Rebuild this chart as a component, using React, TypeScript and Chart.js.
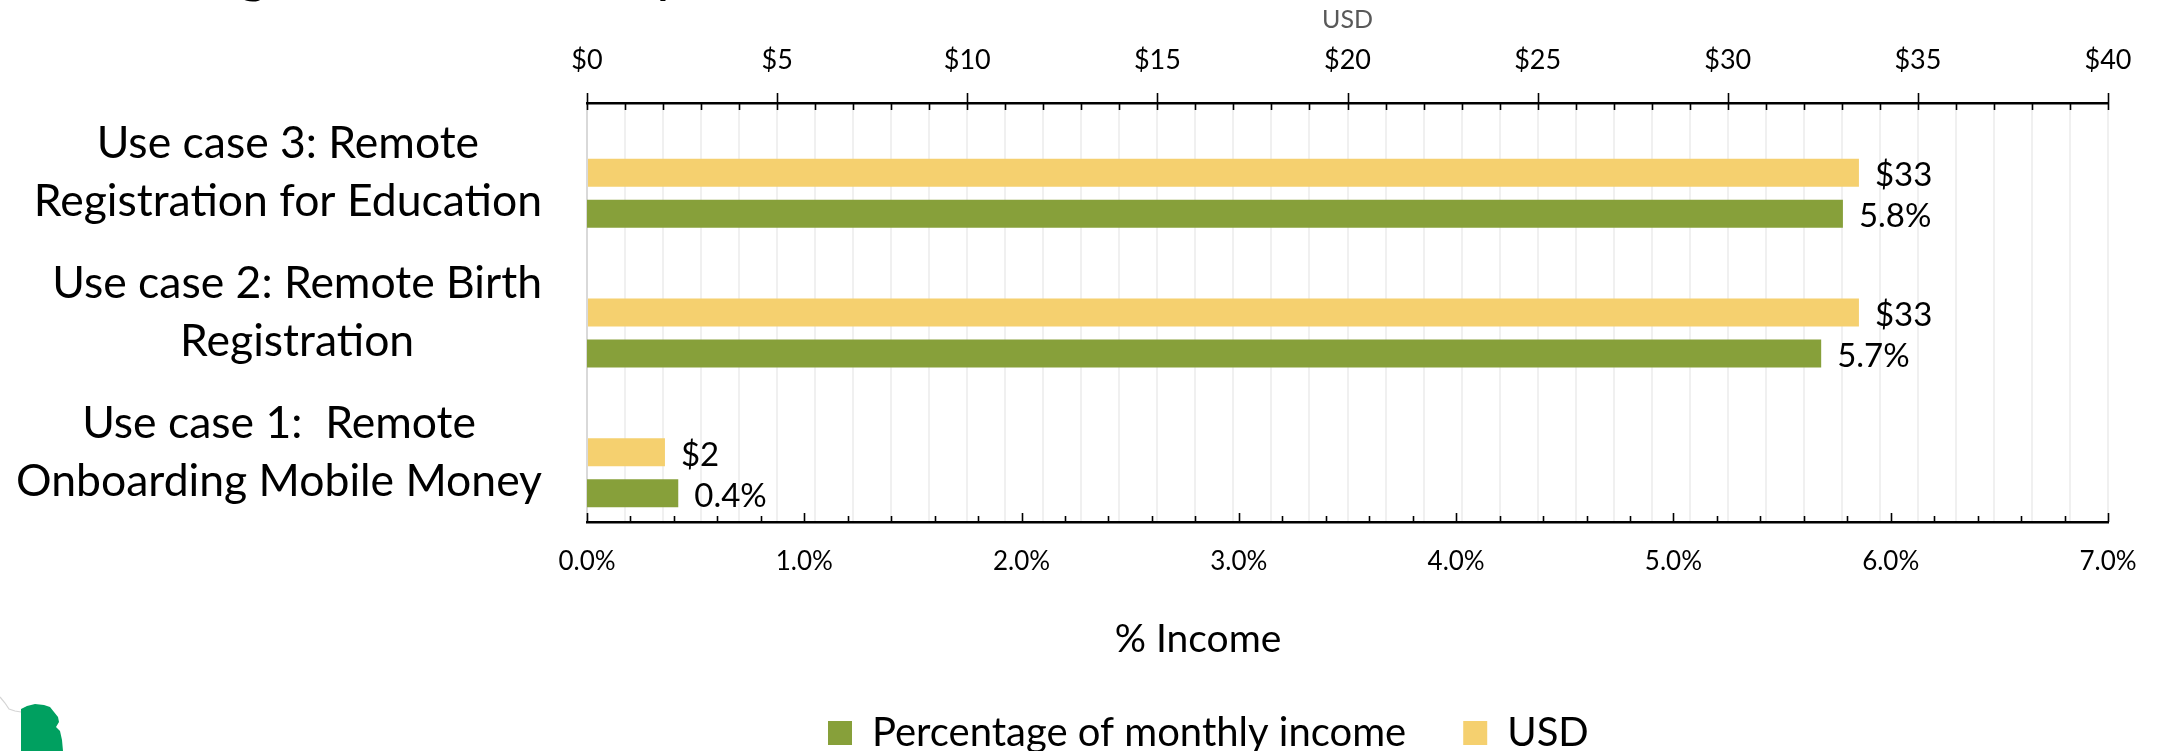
import React, { useEffect, useRef } from "react";
import { Chart, registerables } from "chart.js";

Chart.register(...registerables);

const FONT = "Lato";
const categories = [
  ["Use case 3: Remote", "Registration for Education"],
  ["Use case 2: Remote Birth", "Registration"],
  ["Use case 1:  Remote", "Onboarding Mobile Money"],
];
const usdCost = [33.45, 33.45, 2.05];
const incomeShare = [5.78, 5.68, 0.42];
const reservedSlot = [null, null, null];

const GREEN = "#87A03A";
const YELLOW = "#F5D06F";

// Tick marks of different lengths, which the scale options cannot express.
function drawTicks(ctx: CanvasRenderingContext2D, scale: any, isMajor: (v: number) => boolean, top: boolean) {
  const edge = top ? scale.bottom : scale.top;
  ctx.strokeStyle = "#000";
  ctx.lineWidth = 1.6;
  for (const t of scale.ticks) {
    const x = Math.round(scale.getPixelForValue(t.value)) + 0.5;
    ctx.beginPath();
    if (top) {
      ctx.moveTo(x, isMajor(t.value) ? edge - 10 : edge);
      ctx.lineTo(x, edge + 7);
    } else {
      ctx.moveTo(x, edge - (isMajor(t.value) ? 9 : 6));
      ctx.lineTo(x, edge);
    }
    ctx.stroke();
  }
}

const annotations = {
  id: "annotations",
  afterLayout(chart: any) {
    // Legend sits under the income axis title, left of the plot centre.
    const legend = chart.legend;
    const dx = 771;
    const dy = 656 - legend.top;
    legend.left += dx;
    legend.right += dx;
    legend.top += dy;
    legend.bottom += dy;
    legend.adjustHitBoxes();
  },
  beforeDraw(chart: any) {
    const { ctx } = chart;
    ctx.save();
    // Emblem at the lower-left corner.
    ctx.fillStyle = "#00A060";
    ctx.beginPath();
    [[21, 709], [27, 706], [35, 704], [44, 705], [50, 707], [54, 712], [58, 717], [59, 722], [56, 727], [60, 731], [62, 740], [63, 751], [21, 751]]
      .forEach(([x, y], i) => (i ? ctx.lineTo(x, y) : ctx.moveTo(x, y)));
    ctx.closePath();
    ctx.fill();
    ctx.strokeStyle = "#D5D5D5";
    ctx.lineWidth = 1.2;
    ctx.beginPath();
    [[0, 697], [5, 703], [9, 709], [15, 711], [21, 712]].forEach(([x, y], i) => (i ? ctx.lineTo(x, y) : ctx.moveTo(x, y)));
    ctx.stroke();
    // Descenders of the heading that runs off the top edge.
    ctx.fillStyle = "#000";
    ctx.font = `60px ${FONT}`;
    ctx.textAlign = "center";
    ctx.textBaseline = "alphabetic";
    ctx.fillText("g", 253, -9);
    ctx.fillText("y", 668, -9);
    ctx.restore();
  },
  afterDatasetsDraw(chart: any) {
    const { ctx, scales } = chart;
    ctx.save();
    drawTicks(ctx, scales.x2, (v) => v % 5 === 0, true);
    drawTicks(ctx, scales.x, (v) => Math.round(v * 10) % 10 === 0, false);

    // Value labels to the right of each bar.
    ctx.fillStyle = "#000";
    ctx.font = `33px ${FONT}`;
    ctx.textAlign = "left";
    ctx.textBaseline = "middle";
    const series: [number, (v: number) => string][] = [
      [1, (v) => `$${Math.round(v)}`],
      [2, (v) => `${v.toFixed(1)}%`],
    ];
    for (const [di, fmt] of series) {
      chart.getDatasetMeta(di).data.forEach((bar: any, i: number) => {
        ctx.fillText(fmt(chart.data.datasets[di].data[i]), bar.x + 16, bar.y + 3);
      });
    }

    // Category labels: each block centred on itself and flush right against the axis gutter.
    ctx.font = `44.5px ${FONT}`;
    ctx.textAlign = "center";
    categories.forEach((lines, i) => {
      const widest = Math.max(...lines.map((l) => ctx.measureText(l).width));
      const cy = scales.y.getPixelForValue(i);
      lines.forEach((line, j) => {
        ctx.fillText(line, 542 - widest / 2, cy + (j - 0.5) * 58);
      });
    });

    // Income axis title, centred above the legend.
    ctx.font = `39px ${FONT}`;
    ctx.fillText("% Income", 1198, 639);
    ctx.restore();
  },
};

export default function App() {
  const ref = useRef<HTMLCanvasElement>(null);
  useEffect(() => {
    const chart = new Chart(ref.current!, {
      type: "bar",
      plugins: [annotations],
      data: {
        labels: categories as any,
        datasets: [
          { label: "Reserved", data: reservedSlot as any, xAxisID: "x2", backgroundColor: "transparent" },
          { label: "USD", data: usdCost, xAxisID: "x2", backgroundColor: YELLOW },
          { label: "Percentage of monthly income", data: incomeShare, xAxisID: "x", backgroundColor: GREEN },
        ],
      },
      options: {
        indexAxis: "y",
        responsive: false,
        animation: false,
        layout: { padding: { left: 0, right: 56, top: 0, bottom: 0 } },
        datasets: { bar: { categoryPercentage: 0.881, barPercentage: 0.683 } },
        scales: {
          y: {
            afterFit: (s: any) => { s.width = 587; },
            grid: { display: false, drawTicks: false },
            ticks: { display: false },
            border: { color: "#D9D9D9", width: 2 },
          },
          x2: {
            position: "top",
            min: 0,
            max: 40,
            afterFit: (s: any) => { s.height = 103; },
            grid: { color: "#F0F0F0", lineWidth: 2, drawTicks: false },
            border: { color: "#000", width: 2.5 },
            title: { display: true, text: "USD", color: "#595959", font: { family: FONT, size: 25 }, padding: { top: 5, bottom: 0 } },
            ticks: {
              stepSize: 1,
              autoSkip: false,
              maxRotation: 0,
              padding: 27,
              color: "#000",
              font: { family: FONT, size: 27 },
              callback: (v: any) => (v % 5 === 0 ? `$${v}` : ""),
            },
          },
          x: {
            position: "bottom",
            min: 0,
            max: 7,
            afterFit: (s: any) => { s.height = 122; },
            grid: { display: false, drawTicks: false },
            border: { color: "#000", width: 2.5 },
            ticks: {
              stepSize: 0.2,
              autoSkip: false,
              maxRotation: 0,
              padding: 24,
              color: "#000",
              font: { family: FONT, size: 26 },
              callback: (v: any) => (Math.round(v * 10) % 10 === 0 ? `${Number(v).toFixed(1)}%` : ""),
            },
          },
        },
        plugins: {
          tooltip: { enabled: false },
          legend: {
            position: "bottom",
            align: "start",
            labels: {
              boxWidth: 24,
              boxHeight: 24,
              padding: 57,
              color: "#000",
              font: { family: FONT, size: 40 },
              filter: (item: any) => item.text !== "Reserved",
              sort: (a: any, b: any) => b.datasetIndex - a.datasetIndex,
            },
          },
        },
      } as any,
    });
    return () => chart.destroy();
  }, []);

  return (
    <div style={{ position: "fixed", left: 0, top: 0 }}>
      <canvas ref={ref} width={2164} height={751} style={{ display: "block" }} />
    </div>
  );
}
